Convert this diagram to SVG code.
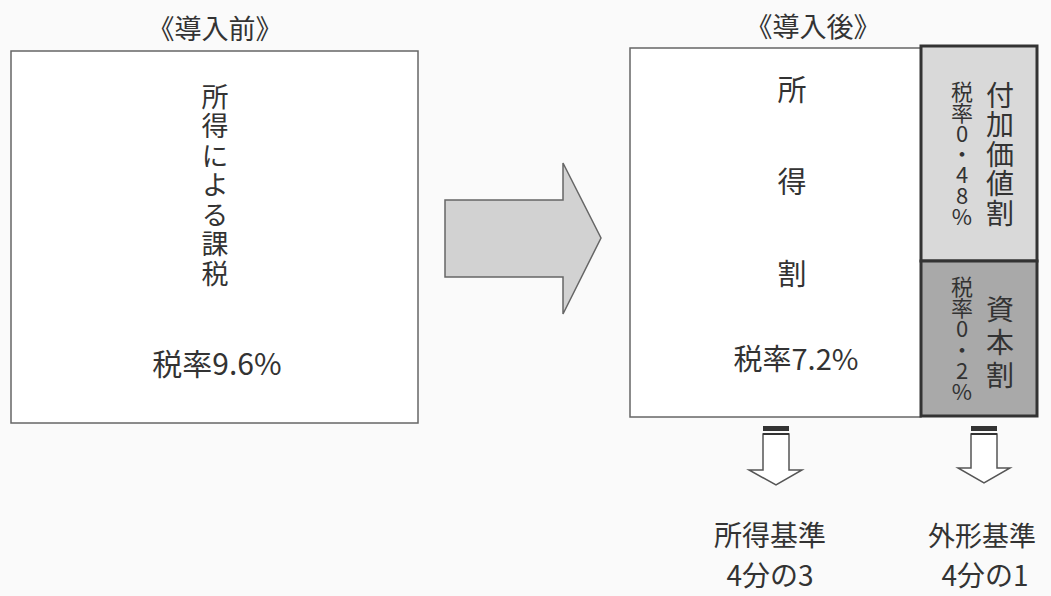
<svg xmlns="http://www.w3.org/2000/svg" width="1051" height="596" viewBox="0 0 1051 596">
<style>
text{font-family:"Noto Sans CJK JP","Noto Sans",sans-serif;fill:#333;}
.h{text-anchor:middle;}
.v{writing-mode:vertical-rl;text-orientation:upright;}
.box{fill:#fff;stroke:#666;stroke-width:1.5;}
.sarrow{fill:#fff;stroke:#555;stroke-width:1.5;}
.band{fill:#333;}
</style>
<rect x="0" y="0" width="1051" height="596" fill="#fafafa"/>
<g id="title-before"><text class="h" x="215" y="39" font-size="27">《導入前》</text></g>
<g id="title-after"><text class="h" x="813" y="37" font-size="27">《導入後》</text></g>
<g id="before">
<rect class="box" x="11" y="51" width="407" height="372"/>
<text class="v" x="215" y="83" font-size="27" letter-spacing="2.5">所得による課税</text>
<text class="h" x="217" y="375" font-size="30">税率9.6%</text>
</g>
<g id="after-income">
<rect class="box" x="630" y="48" width="291" height="369"/>
<text class="v" x="792" y="75" font-size="29" letter-spacing="63">所得割</text>
<text class="h" x="796" y="370" font-size="29">税率7.2%</text>
</g>
<g id="after-value-added">
<rect x="921" y="46" width="116" height="215" fill="#d9d9d9" stroke="#333" stroke-width="3"/>
<text class="v" x="1000" y="81" font-size="28" letter-spacing="1.5">付加価値割</text>
<text class="v" x="962" y="81" font-size="22" letter-spacing="-1.3">税率0・48%</text>
</g>
<g id="after-capital">
<rect x="921" y="261" width="116" height="155" fill="#a9a9a9" stroke="#333" stroke-width="3"/>
<text class="v" x="1000" y="295" font-size="28" letter-spacing="5">資本割</text>
<text class="v" x="962" y="276" font-size="22" letter-spacing="-1">税率0・2%</text>
</g>
<g id="income-standard">
<text class="h" x="770" y="546" font-size="28">所得基準</text>
<text class="h" x="770" y="586" font-size="28">4分の3</text>
</g>
<g id="external-standard">
<text class="h" x="982" y="546" font-size="27">外形基準</text>
<text class="h" x="985" y="586" font-size="28">4分の1</text>
</g>
<g id="connectors">
<polygon points="445,200 563,200 563,163 601,238 563,314 563,277 445,277" fill="#d2d2d2" stroke="#666" stroke-width="1.5"/>
<polygon class="sarrow" points="763,434 789,434 789,470 802,470 776,485 749,470 763,470"/>
<rect class="band" x="763" y="426" width="26" height="5"/>
<rect class="band" x="763" y="433" width="26" height="2"/>
<polygon class="sarrow" points="971,434 997,434 997,468 1010,468 984,483 958,468 971,468"/>
<rect class="band" x="971" y="426" width="26" height="5"/>
<rect class="band" x="971" y="433" width="26" height="2"/>
</g>
</svg>
